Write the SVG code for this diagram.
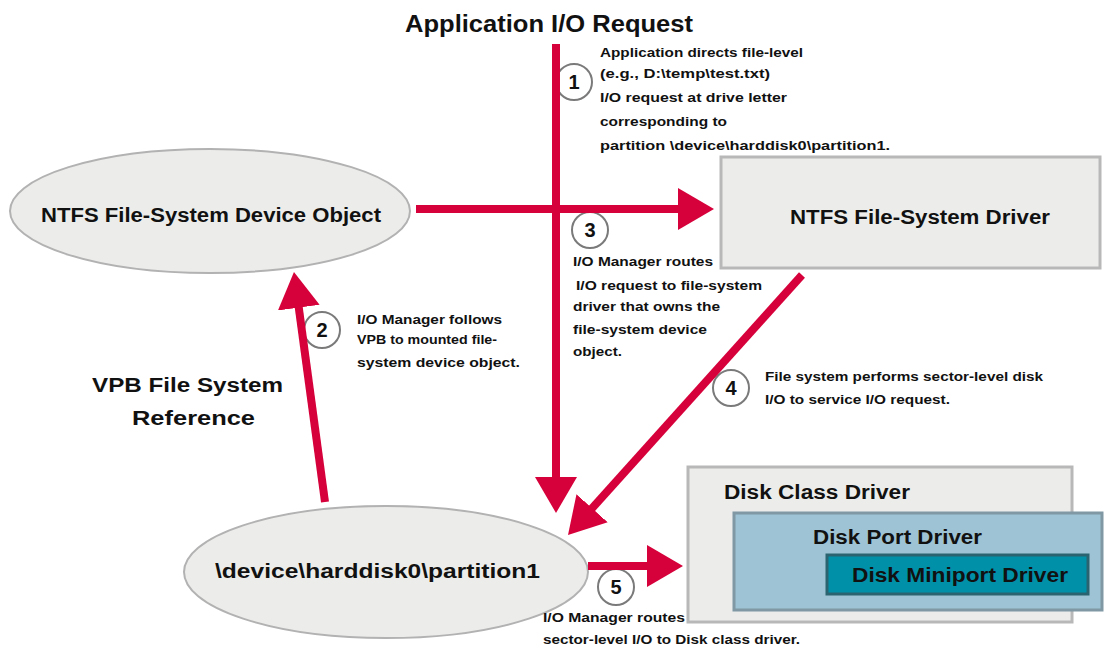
<svg xmlns="http://www.w3.org/2000/svg" width="1104" height="648" viewBox="0 0 1104 648">
<style>
  .big{font-family:"Liberation Sans",Arial,sans-serif;font-weight:bold;font-size:20px;fill:#111}
  .title{font-family:"Liberation Sans",Arial,sans-serif;font-weight:bold;font-size:23px;fill:#111}
  .note{font-family:"Liberation Sans",Arial,sans-serif;font-weight:bold;font-size:12.5px;fill:#111}
  .num{font-family:"Liberation Sans",Arial,sans-serif;font-weight:bold;font-size:20px;fill:#111;text-anchor:middle}
  .ell{fill:#ecedeb;stroke:#b2b2b2;stroke-width:2}
  .box{fill:#ecedeb;stroke:#b8b8b8;stroke-width:3}
  .port{fill:#9ec3d4;stroke:#7f98a3;stroke-width:3}
  .mini{fill:#0090a8;stroke:#2b6470;stroke-width:3}
  .circ{fill:#fff;stroke:#7a7a7a;stroke-width:2}
  .conn{fill:none;stroke:#d6003a;stroke-width:8;marker-end:url(#ah)}
</style>
<defs>
  <marker id="ah" markerUnits="userSpaceOnUse" markerWidth="36" markerHeight="42" viewBox="0 0 36 42" refX="26" refY="21" orient="auto">
    <path d="M0,0 L36,21 L0,42 z" fill="#d6003a"/>
  </marker>
</defs>
<rect width="1104" height="648" fill="#fff"/>

<text class="title" x="405" y="32" textLength="288" lengthAdjust="spacingAndGlyphs">Application I/O Request</text>

<g id="ntfs-device-object">
  <ellipse class="ell" cx="210" cy="211" rx="200" ry="62"/>
  <text class="big" x="41" y="222" textLength="340" lengthAdjust="spacingAndGlyphs">NTFS File-System Device Object</text>
</g>
<g id="ntfs-driver">
  <rect class="box" x="721" y="157" width="379" height="111"/>
  <text class="big" x="790" y="224" textLength="260" lengthAdjust="spacingAndGlyphs">NTFS File-System Driver</text>
</g>
<g id="partition">
  <ellipse class="ell" cx="386" cy="572" rx="202" ry="66"/>
  <text class="big" x="215" y="578" textLength="325" lengthAdjust="spacingAndGlyphs">\device\harddisk0\partition1</text>
</g>
<g id="vpb-label">
  <text class="big" x="92" y="392" font-size="23" textLength="191" lengthAdjust="spacingAndGlyphs">VPB File System</text>
  <text class="big" x="132" y="425" font-size="23" textLength="123" lengthAdjust="spacingAndGlyphs">Reference</text>
</g>
<g id="disk-class-driver">
  <rect class="box" x="688" y="467" width="384" height="155"/>
  <text class="big" x="724" y="499" textLength="186" lengthAdjust="spacingAndGlyphs">Disk Class Driver</text>
</g>
<g id="disk-port-driver">
  <rect class="port" x="734" y="513" width="368" height="97"/>
  <text class="big" x="813" y="544" textLength="169" lengthAdjust="spacingAndGlyphs">Disk Port Driver</text>
</g>
<g id="disk-miniport-driver">
  <rect class="mini" x="827" y="555" width="261" height="39"/>
  <text class="big" x="852" y="582" textLength="216" lengthAdjust="spacingAndGlyphs">Disk Miniport Driver</text>
</g>

<g id="step-labels">
  <circle class="circ" cx="574" cy="82" r="18"/>
  <text class="num" x="574" y="89">1</text>
  <circle class="circ" cx="590" cy="230" r="18"/>
  <text class="num" x="590" y="237">3</text>
  <circle class="circ" cx="322" cy="330" r="18"/>
  <text class="num" x="322" y="337">2</text>
  <circle class="circ" cx="731" cy="388" r="18"/>
  <text class="num" x="731" y="395">4</text>
  <circle class="circ" cx="616" cy="587" r="18"/>
  <text class="num" x="616" y="594">5</text>

  <text class="note" x="600" y="57" textLength="203" lengthAdjust="spacingAndGlyphs">Application directs file-level</text>
  <text class="note" x="600" y="78" textLength="170" lengthAdjust="spacingAndGlyphs">(e.g., D:\temp\test.txt)</text>
  <text class="note" x="600" y="102" textLength="187" lengthAdjust="spacingAndGlyphs">I/O request at drive letter</text>
  <text class="note" x="600" y="126" textLength="127" lengthAdjust="spacingAndGlyphs">corresponding to</text>
  <text class="note" x="600" y="150" textLength="290" lengthAdjust="spacingAndGlyphs">partition \device\harddisk0\partition1.</text>

  <text class="note" x="573" y="266" textLength="140" lengthAdjust="spacingAndGlyphs">I/O Manager routes</text>
  <text class="note" x="576" y="290" textLength="186" lengthAdjust="spacingAndGlyphs">I/O request to file-system</text>
  <text class="note" x="573" y="311" textLength="147" lengthAdjust="spacingAndGlyphs">driver that owns the</text>
  <text class="note" x="573" y="334" textLength="134" lengthAdjust="spacingAndGlyphs">file-system device</text>
  <text class="note" x="573" y="356" textLength="49" lengthAdjust="spacingAndGlyphs">object.</text>

  <text class="note" x="357" y="324" textLength="145" lengthAdjust="spacingAndGlyphs">I/O Manager follows</text>
  <text class="note" x="357" y="344" textLength="140" lengthAdjust="spacingAndGlyphs">VPB to mounted file-</text>
  <text class="note" x="357" y="367" textLength="163" lengthAdjust="spacingAndGlyphs">system device object.</text>

  <text class="note" x="765" y="381" textLength="278" lengthAdjust="spacingAndGlyphs">File system performs sector-level disk</text>
  <text class="note" x="765" y="404" textLength="185" lengthAdjust="spacingAndGlyphs">I/O to service I/O request.</text>

  <text class="note" x="543" y="622" textLength="142" lengthAdjust="spacingAndGlyphs">I/O Manager routes</text>
  <text class="note" x="543" y="644" textLength="257" lengthAdjust="spacingAndGlyphs">sector-level I/O to Disk class driver.</text>
</g>

<g id="connectors">
  <line class="conn" x1="556" y1="44" x2="556" y2="503"/>
  <line class="conn" x1="416" y1="209" x2="704" y2="209"/>
  <line class="conn" x1="325" y1="502" x2="295.3" y2="281.9"/>
  <line class="conn" x1="802" y1="275" x2="574.7" y2="527.6"/>
  <line class="conn" x1="588" y1="566" x2="673" y2="566"/>
</g>
</svg>
